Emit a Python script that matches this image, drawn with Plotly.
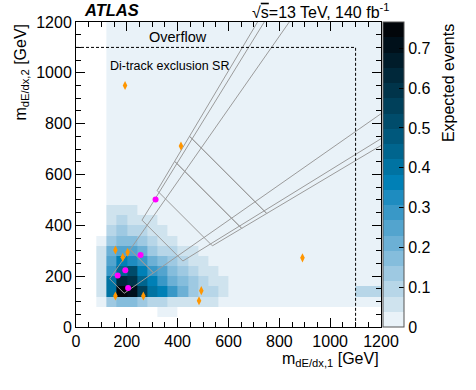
import plotly.graph_objects as go

# histogram bin edges (GeV); the last column / row is the overflow bin
x_edges = [80, 120, 160, 200, 240, 280, 320, 360, 400, 440, 480, 520, 560, 600, 640, 1100, 1200]
y_edges = [40, 80, 120, 160, 200, 240, 280, 320, 360, 400, 440, 480, 520, 1100, 1200]

N = None
# expected events, one row per m2 bin (low -> high), one value per m1 bin
z_rows = [
    [N, N, N, N, N, N, 0.02, 0.02, N, N, N, N, N, N, N, N],
    [0.03, 0.12, 0.19, 0.19, 0.15, 0.1, 0.09, 0.06, 0.06, 0.05, 0.05, 0.04, 0.02, 0.02, 0.01, 0.01],
    [0.05, 0.42, 0.76, 0.72, 0.55, 0.42, 0.36, 0.28, 0.22, 0.15, 0.11, 0.08, 0.05, 0.02, 0.01, 0.09],
    [0.05, 0.4, 0.62, 0.58, 0.44, 0.36, 0.3, 0.22, 0.17, 0.12, 0.09, 0.06, 0.04, 0.02, 0.01, 0.01],
    [0.05, 0.3, 0.45, 0.5, 0.38, 0.3, 0.24, 0.18, 0.13, 0.09, 0.06, 0.04, 0.02, 0.01, 0.01, 0.01],
    [0.04, 0.26, 0.36, 0.34, 0.28, 0.22, 0.17, 0.12, 0.09, 0.06, 0.04, 0.02, 0.01, 0.01, 0.01, 0.01],
    [0.04, 0.2, 0.26, 0.24, 0.2, 0.15, 0.11, 0.08, 0.05, 0.04, 0.02, 0.01, 0.01, 0.01, 0.01, 0.01],
    [0.03, 0.15, 0.18, 0.16, 0.13, 0.1, 0.07, 0.05, 0.03, 0.02, 0.01, 0.01, 0.01, 0.01, 0.01, 0.01],
    [N, 0.1, 0.12, 0.1, 0.08, 0.06, 0.04, 0.02, 0.01, 0.01, 0.01, 0.01, 0.01, 0.01, 0.01, 0.01],
    [N, 0.06, 0.08, 0.07, 0.05, 0.04, 0.02, 0.01, 0.01, 0.01, 0.01, 0.01, 0.01, 0.01, 0.01, 0.01],
    [N, 0.04, 0.05, 0.04, 0.02, 0.01, 0.01, 0.01, 0.01, 0.01, 0.01, 0.01, 0.01, 0.01, 0.01, 0.01],
    [N, 0.01, 0.01, 0.01, 0.01, 0.01, 0.01, 0.01, 0.01, 0.01, 0.01, 0.01, 0.01, 0.01, 0.01, 0.01],
    [N, 0.01, 0.01, 0.01, 0.01, 0.01, 0.01, 0.01, 0.01, 0.01, 0.01, 0.01, 0.01, 0.01, 0.01, 0.01],
    [N, 0.01, 0.01, 0.01, 0.01, 0.01, 0.01, 0.01, 0.01, 0.01, 0.01, 0.01, 0.01, 0.01, 0.01, 0.01],
]

# observed events
orange_m1 = [193, 413, 891, 155, 203, 184, 155, 265, 493, 484]
orange_m2 = [950, 712, 272, 303, 294, 274, 122, 122, 143, 103]
magenta_m1 = [313, 254, 194, 164, 205]
magenta_m2 = [502, 283, 223, 203, 153]

# signal-region windows: max ratio m2/m1, lower and upper m1+m2 (None = open)
sr_ratio = [1.43, 1.43, 1.62, 1.68, 1.68, 1.68]
sr_sum_lo = [322, 518, 680, 856, 1040, 1197]
sr_sum_hi = [518, None, None, 1040, 1197, None]

# discrete palette, 20 bands from 0 to zmax
band_colors = [
    "rgb(233,242,248)", "rgb(207,227,238)", "rgb(183,214,232)", "rgb(158,201,226)",
    "rgb(133,189,220)", "rgb(108,176,213)", "rgb(83,164,206)", "rgb(57,152,199)",
    "rgb(30,140,192)", "rgb(0,128,182)", "rgb(0,115,162)", "rgb(0,101,142)",
    "rgb(0,88,124)", "rgb(0,76,107)", "rgb(0,64,90)", "rgb(0,52,74)",
    "rgb(0,40,58)", "rgb(0,28,42)", "rgb(0,16,26)", "rgb(2,6,10)",
]
zmax = 0.766

colorscale = []
for i, c in enumerate(band_colors):
    colorscale.append([i / len(band_colors), c])
    colorscale.append([(i + 1) / len(band_colors), c])

FONT = "Liberation Sans, Arial, Helvetica, sans-serif"

fig = go.Figure()
fig.add_trace(go.Heatmap(
    x=x_edges, y=y_edges, z=z_rows,
    zmin=0, zmax=zmax, colorscale=colorscale, zsmooth=False,
    hoverongaps=False,
    colorbar=dict(
        x=1.0066, xanchor="left", xpad=0, y=0.5, yanchor="middle", ypad=0,
        len=1, lenmode="fraction", thickness=21,
        outlinewidth=1, outlinecolor="#555",
        tickvals=[0, 0.1, 0.2, 0.3, 0.4, 0.5, 0.6, 0.7],
        ticktext=["0", "0.1", "0.2", "0.3", "0.4", "0.5", "0.6", "0.7"],
        ticks="inside", ticklen=5, tickcolor="black",
        tickfont=dict(family=FONT, size=16, color="black"),
    ),
))

# signal region outlines
lx, ly = [], []
far = 4000
for r, lo, hi in zip(sr_ratio, sr_sum_lo, sr_sum_hi):
    def left(s):
        return s / (1 + r), r * s / (1 + r)
    def right(s):
        return r * s / (1 + r), s / (1 + r)
    if hi is None:
        pts = [left(far), left(lo), right(lo), right(far)]
    else:
        pts = [left(lo), right(lo), right(hi), left(hi), left(lo)]
    for p in pts:
        lx.append(p[0])
        ly.append(p[1])
    lx.append(None)
    ly.append(None)

fig.add_trace(go.Scatter(x=lx, y=ly, mode="lines",
                         line=dict(color="rgb(155,155,155)", width=1),
                         hoverinfo="skip", showlegend=False))

# overflow boundary
fig.add_trace(go.Scatter(x=[0, 1100, 1100], y=[1100, 1100, 0], mode="lines",
                         line=dict(color="black", width=1, dash="3px,2px"),
                         hoverinfo="skip", showlegend=False))

fig.add_trace(go.Scatter(x=orange_m1, y=orange_m2, mode="markers",
                         marker=dict(symbol="diamond-tall", size=6.5, color="rgb(255,150,0)"),
                         showlegend=False))
fig.add_trace(go.Scatter(x=magenta_m1, y=magenta_m2, mode="markers",
                         marker=dict(symbol="circle", size=6, color="rgb(255,0,255)"),
                         showlegend=False))

axis_common = dict(
    range=[0, 1200], tickvals=[0, 200, 400, 600, 800, 1000, 1200],
    ticks="inside", ticklen=9, tickwidth=1, tickcolor="black",
    minor=dict(dtick=50, ticks="inside", ticklen=5, tickcolor="black"),
    showline=True, linecolor="black", linewidth=1, mirror="allticks",
    showgrid=False, zeroline=False, automargin=False,
    tickfont=dict(family=FONT, size=16, color="black"),
)
fig.update_xaxes(**axis_common)
fig.update_yaxes(**axis_common)

fig.update_layout(
    width=476, height=390,
    margin=dict(l=76, r=95, t=22, b=63),
    plot_bgcolor="white", paper_bgcolor="white",
    font=dict(family=FONT, color="black"),
    showlegend=False,
    annotations=[
        dict(text="<b><i>ATLAS</i></b>", x=0.02, y=1.038, xref="paper", yref="paper",
             xanchor="left", yanchor="middle", showarrow=False,
             font=dict(size=16.5, family=FONT)),
        dict(text="√<span style='text-decoration:overline'>s</span>=13 TeV, 140 fb<sup>-1</sup>",
             x=1.035, y=1.035, xref="paper", yref="paper",
             xanchor="right", yanchor="middle", showarrow=False,
             font=dict(size=16, family=FONT)),
        dict(text="Overflow", x=280, y=1140, xref="x", yref="y",
             xanchor="left", yanchor="middle", showarrow=False,
             font=dict(size=14.5, family=FONT)),
        dict(text="Di-track exclusion SR", x=126, y=1025, xref="x", yref="y",
             xanchor="left", yanchor="middle", showarrow=False,
             font=dict(size=12.5, family=FONT)),
        dict(text="m<sub>dE/dx,1</sub> [GeV]", x=1, y=-0.07, xref="paper", yref="paper",
             xanchor="right", yanchor="top", showarrow=False,
             font=dict(size=16, family=FONT)),
        dict(text="m<sub>dE/dx,2</sub> [GeV]", x=-0.18, y=1.0, xref="paper", yref="paper",
             xanchor="center", yanchor="top", textangle=-90, showarrow=False,
             font=dict(size=16, family=FONT)),
        dict(text="Expected events", x=1.22, y=1.0, xref="paper", yref="paper",
             xanchor="center", yanchor="top", textangle=-90, showarrow=False,
             font=dict(size=16, family=FONT)),
    ],
)

# the page's default body margin would shift the figure by 8px
fig.write_html("out.html", config={"displayModeBar": False, "staticPlot": True},
               post_script="document.body.style.margin='0px';")
